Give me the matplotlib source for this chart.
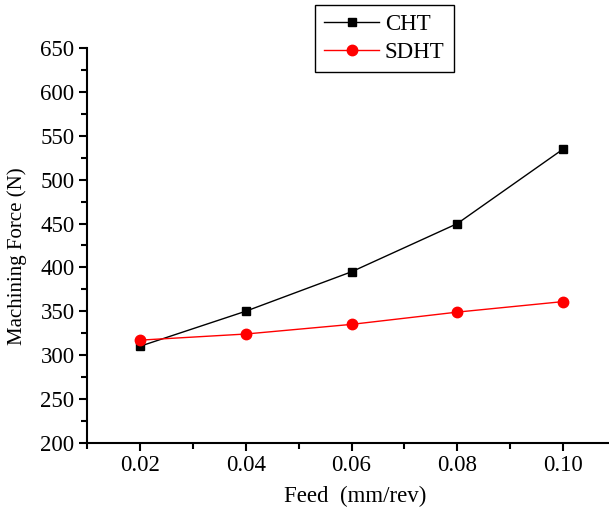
import matplotlib.pyplot as plt
from matplotlib.ticker import MultipleLocator

feed = [0.02, 0.04, 0.06, 0.08, 0.10]
cht = [310, 350, 395, 450, 535]
sdht = [317, 324, 335, 349, 361]

plt.rcParams["font.family"] = ["Liberation Serif", "DejaVu Serif"]

fig = plt.figure(figsize=(6.09, 5.16), dpi=100)
ax = fig.add_axes([87 / 609, 73.3 / 516, 529 / 609, 394.4 / 516])

ax.plot(feed, cht, color="black", lw=1, marker="s", ms=6, label="CHT")
ax.plot(feed, sdht, color="red", lw=1, marker="o", ms=7.5, label="SDHT")

ax.set_xlim(0.01, 0.11)
ax.set_ylim(200, 650)
ax.set_xticks(feed)
ax.set_xticklabels(["0.02", "0.04", "0.06", "0.08", "0.10"])
ax.xaxis.set_minor_locator(MultipleLocator(0.01))
ax.yaxis.set_major_locator(MultipleLocator(50))
ax.yaxis.set_minor_locator(MultipleLocator(25))

for s in ["top", "right"]:
    ax.spines[s].set_visible(False)
for s in ["left", "bottom"]:
    ax.spines[s].set_linewidth(1.5)

ax.tick_params(which="major", direction="out", length=6, width=1.5, labelsize=16.5, pad=3)
ax.tick_params(which="minor", direction="out", length=4, width=1.5)

ax.set_xlabel("Feed  (mm/rev)", fontsize=16.5)
ax.xaxis.set_label_coords((355 - 87) / 529, -(496 - 442.7) / 394.4)
ax.xaxis.label.set_va("center")
ax.set_ylabel("Machining Force (N)", fontsize=15)
ax.yaxis.set_label_coords(-(87 - 17) / 529, (442.7 - 256) / 394.4)
ax.yaxis.label.set_va("center")

leg = ax.legend(loc="upper left", bbox_to_anchor=(315 / 609, 1 - 5 / 516),
                bbox_transform=fig.transFigure, fontsize=16.5, frameon=True,
                fancybox=False, edgecolor="black", handlelength=2.4,
                borderpad=0.4, labelspacing=0.3, handletextpad=0.25,
                borderaxespad=0)
leg.get_frame().set_linewidth(1)
leg.get_frame().set_alpha(1)

fig.savefig("out.png", dpi=100)
